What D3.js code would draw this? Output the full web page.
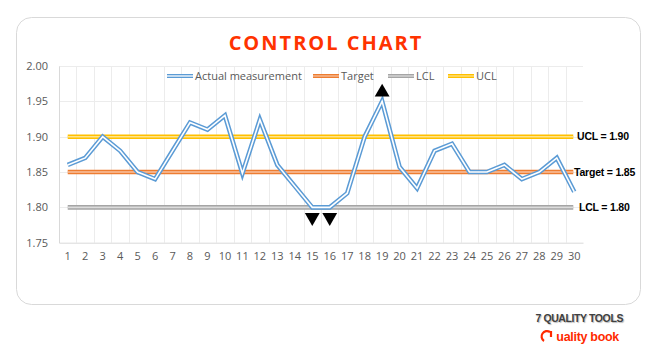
<!DOCTYPE html>
<html lang="en">
<head>
<meta charset="UTF-8">
<title>Control chart</title>
<script src="https://cdn.jsdelivr.net/npm/d3@7"></script>
<style>
  body { margin: 0; background: #fff; }
  svg { display: block; }
</style>
</head>
<body>
<div id="container"></div>
<script>
const samples = [1, 2, 3, 4, 5, 6, 7, 8, 9, 10, 11, 12, 13, 14, 15,
                 16, 17, 18, 19, 20, 21, 22, 23, 24, 25, 26, 27, 28, 29, 30];
const measurement = [1.86, 1.87, 1.90, 1.88, 1.85, 1.84, 1.88, 1.92, 1.91, 1.93,
                     1.848, 1.924, 1.86, 1.83, 1.80, 1.80, 1.82, 1.90, 1.95, 1.857,
                     1.827, 1.88, 1.89, 1.85, 1.85, 1.86, 1.84, 1.85, 1.87, 1.822];
const target = 1.85;
const lcl = 1.80;
const ucl = 1.90;
const yTicks = [1.75, 1.80, 1.85, 1.90, 1.95, 2.00];
const outUp = [19];
const outDown = [15, 16];
const seriesNames = ["Actual measurement", "Target", "LCL", "UCL"];
const seriesColors = ["#5b9bd5", "#ed7d31", "#a5a5a5", "#ffc000"];

const width = 658, height = 352;
const plot = {left: 59, right: 583, top: 66, bottom: 242.7};
const font = "'Open Sans', sans-serif";

const svg = d3.select("#container").append("svg")
    .attr("width", width).attr("height", height);

// card
svg.append("rect")
    .attr("x", 16.5).attr("y", 17.5).attr("width", 624).attr("height", 287)
    .attr("rx", 15).attr("fill", "#fff").attr("stroke", "#d9d9d9");

svg.append("text")
    .attr("x", 326).attr("y", 50)
    .attr("text-anchor", "middle")
    .attr("font-family", font).attr("font-weight", "bold")
    .attr("font-size", 20).attr("letter-spacing", 2)
    .attr("fill", "#ff3300")
    .text("CONTROL CHART");

const x = d3.scaleBand().domain(samples).range([plot.left, plot.right]);
const y = d3.scaleLinear().domain([1.75, 2.00]).range([plot.bottom, plot.top]);
const cx = d => x(d) + x.bandwidth() / 2;

// grid
const grid = svg.append("g").attr("stroke", "#ececec").attr("stroke-width", 1);
grid.selectAll(".h").data(yTicks.slice(1)).join("line")
    .attr("x1", plot.left).attr("x2", plot.right)
    .attr("y1", d => Math.round(y(d)) + 0.5).attr("y2", d => Math.round(y(d)) + 0.5);
grid.selectAll(".v").data(samples.slice(1)).join("line")
    .attr("x1", d => Math.round(x(d)) + 0.5).attr("x2", d => Math.round(x(d)) + 0.5)
    .attr("y1", plot.top).attr("y2", plot.bottom);

// axes
const yAxis = svg.append("g")
    .attr("transform", `translate(${plot.left},0)`)
    .call(d3.axisLeft(y).tickValues(yTicks).tickFormat(d3.format(".2f")).tickSize(0).tickPadding(11));
const xAxis = svg.append("g")
    .attr("transform", `translate(0,${plot.bottom})`)
    .call(d3.axisBottom(x).tickSize(0).tickPadding(10));
[yAxis, xAxis].forEach(a => {
    a.select(".domain").attr("stroke", "#d9d9d9");
    a.selectAll("text").attr("font-family", font).attr("font-size", 11).attr("fill", "#595959");
});

// double line helper (Excel style)
function doubleLine(g, d, color, inner) {
    g.append("path").attr("d", d).attr("fill", "none")
        .attr("stroke", color).attr("stroke-width", 4.6).attr("stroke-linejoin", "miter");
    g.append("path").attr("d", d).attr("fill", "none")
        .attr("stroke", inner).attr("stroke-width", 1.6).attr("stroke-linejoin", "miter");
}

const first = samples[0], last = samples[samples.length - 1];
const limits = [
    {v: target, color: seriesColors[1], inner: "#f8c2a0", label: "Target = 1.85", lx: 574},
    {v: lcl, color: seriesColors[2], inner: "#dcdcdc", label: "LCL = 1.80", lx: 579},
    {v: ucl, color: seriesColors[3], inner: "#ffe48a", label: "UCL = 1.90", lx: 577}
];
const lg = svg.append("g");
limits.forEach(l => {
    doubleLine(lg, `M${cx(first)},${y(l.v)}H${cx(last) - 1}`, l.color, l.inner);
    lg.append("text")
        .attr("x", l.lx).attr("y", y(l.v)).attr("dy", "0.35em")
        .attr("font-family", "'Liberation Sans', sans-serif").attr("font-weight", "bold")
        .attr("font-size", 10.5).attr("letter-spacing", -0.2).attr("fill", "#000")
        .text(l.label);
});

const line = d3.line().x((d, i) => cx(samples[i])).y(d => y(d));
doubleLine(svg.append("g"), line(measurement), seriesColors[0], "#fff");

// out of control markers
const tri = d3.symbol().type(d3.symbolTriangle).size(95);
svg.append("g").selectAll("path").data(outUp).join("path")
    .attr("d", tri)
    .attr("transform", d => `translate(${cx(d)},${y(measurement[d - 1]) - 9})`)
    .attr("fill", "#000");
svg.append("g").selectAll("path").data(outDown).join("path")
    .attr("d", tri)
    .attr("transform", d => `translate(${cx(d)},${y(measurement[d - 1]) + 10}) rotate(180)`)
    .attr("fill", "#000");

// legend
const legendX = [167, 313, 388, 448];
const leg = svg.append("g");
seriesNames.forEach((name, i) => {
    const inner = i === 0 ? "#fff" : limits[i - 1].inner;
    const lgi = leg.append("g");
    lgi.append("path").attr("d", `M${legendX[i]},76H${legendX[i] + 26}`)
        .attr("stroke", seriesColors[i]).attr("stroke-width", 4);
    lgi.append("path").attr("d", `M${legendX[i]},76H${legendX[i] + 26}`)
        .attr("stroke", inner).attr("stroke-width", 1.3);
    leg.append("text")
        .attr("x", legendX[i] + 28).attr("y", 76).attr("dy", "0.35em")
        .attr("font-family", font).attr("font-size", 11).attr("fill", "#595959")
        .text(name);
});

// brand
svg.append("text")
    .attr("x", 623).attr("y", 322).attr("text-anchor", "end")
    .attr("font-family", "'Liberation Sans', sans-serif").attr("font-weight", "bold")
    .attr("font-size", 10.5).attr("letter-spacing", -0.4).attr("fill", "#404040")
    .attr("style", "text-shadow: 1px 1px 1px #bbb")
    .text("7 QUALITY TOOLS");
svg.append("path")
    .attr("d", "M544,341 a5,5 0 1,1 6,-9 M551,331 v6")
    .attr("fill", "none").attr("stroke", "#ff2a00").attr("stroke-width", 2.2);
svg.append("text")
    .attr("x", 619).attr("y", 341).attr("text-anchor", "end")
    .attr("font-family", "'Liberation Sans', sans-serif").attr("font-weight", "bold")
    .attr("font-size", 12.5).attr("letter-spacing", -0.3).attr("fill", "#ff2a00")
    .text("uality book");
</script>
</body>
</html>
